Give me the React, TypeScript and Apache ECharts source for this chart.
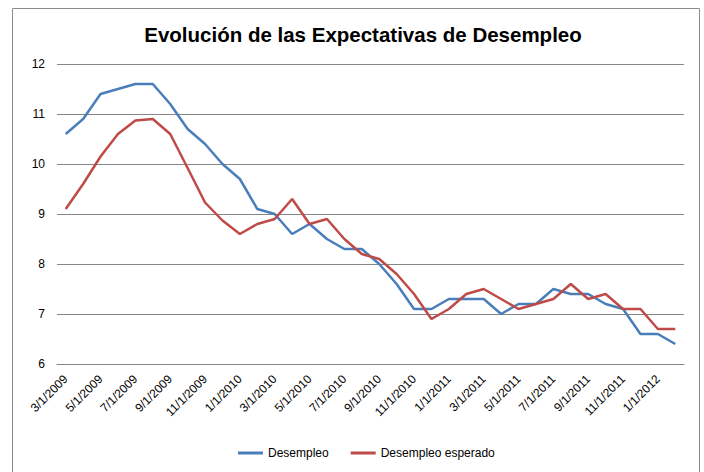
import React, { useEffect, useRef } from "react";
import * as echarts from "echarts";

const categories = [
  "3/1/2009","4/1/2009","5/1/2009","6/1/2009","7/1/2009","8/1/2009","9/1/2009","10/1/2009","11/1/2009","12/1/2009",
  "1/1/2010","2/1/2010","3/1/2010","4/1/2010","5/1/2010","6/1/2010","7/1/2010","8/1/2010","9/1/2010","10/1/2010",
  "11/1/2010","12/1/2010","1/1/2011","2/1/2011","3/1/2011","4/1/2011","5/1/2011","6/1/2011","7/1/2011","8/1/2011",
  "9/1/2011","10/1/2011","11/1/2011","12/1/2011","1/1/2012","2/1/2012",
];

const desempleo = [
  10.6, 10.9, 11.4, 11.5, 11.6, 11.6, 11.2, 10.7, 10.4, 10.0,
  9.7, 9.1, 9.0, 8.6, 8.8, 8.5, 8.3, 8.3, 8.0, 7.6,
  7.1, 7.1, 7.3, 7.3, 7.3, 7.0, 7.2, 7.2, 7.5, 7.4,
  7.4, 7.2, 7.1, 6.6, 6.6, 6.4,
];

const desempleoEsperado = [
  9.1, 9.6, 10.15, 10.6, 10.87, 10.9, 10.6, 9.92, 9.23, 8.87,
  8.6, 8.8, 8.9, 9.3, 8.8, 8.9, 8.5, 8.2, 8.1, 7.8,
  7.4, 6.9, 7.1, 7.4, 7.5, 7.3, 7.1, 7.2, 7.3, 7.6,
  7.3, 7.4, 7.1, 7.1, 6.7, 6.7,
];

const seriesNames = ["Desempleo", "Desempleo esperado"];
const title = "Evolución de las Expectativas de Desempleo";

export default function App() {
  const ref = useRef<HTMLDivElement>(null);
  useEffect(() => {
    if (!ref.current) return;
    const chart = echarts.init(ref.current, null, { renderer: "svg" });
    const font = "'Liberation Sans', sans-serif";
    chart.setOption({
      animation: false,
      backgroundColor: "#ffffff",
      textStyle: { fontFamily: font },
      title: {
        text: title,
        left: 358,
        top: 19,
        textAlign: "center",
        textStyle: { fontFamily: font, fontSize: 20.5, fontWeight: "bold", color: "#000" },
      },
      graphic: [
        {
          type: "rect",
          shape: { x: 12.5, y: 8.5, width: 687, height: 470 },
          style: { fill: "none", stroke: "#8c8c8c", lineWidth: 1 },
          silent: true,
        },
      ],
      grid: { left: 57, right: 20, top: 64, bottom: 108 },
      legend: {
        bottom: 8,
        left: 233,
        icon: "rect",
        itemWidth: 25,
        itemHeight: 3,
        itemGap: 22,
        textStyle: { fontFamily: font, fontSize: 12, color: "#000" },
        data: seriesNames,
      },
      xAxis: {
        type: "category",
        data: categories,
        boundaryGap: true,
        axisLine: { show: true, lineStyle: { color: "#868686" } },
        axisTick: { show: false },
        axisLabel: { interval: 1, rotate: 45, fontFamily: font, fontSize: 12, color: "#000", margin: 13 },
      },
      yAxis: {
        type: "value",
        min: 6,
        max: 12,
        interval: 1,
        axisLine: { show: false },
        axisTick: { show: false },
        splitLine: { lineStyle: { color: "#868686", width: 1 } },
        axisLabel: { fontFamily: font, fontSize: 12, color: "#000", margin: 12 },
      },
      series: [
        {
          name: seriesNames[0],
          type: "line",
          data: desempleo,
          symbol: "none",
          lineStyle: { color: "#4a7ebb", width: 2.5 },
          itemStyle: { color: "#4a7ebb" },
        },
        {
          name: seriesNames[1],
          type: "line",
          data: desempleoEsperado,
          symbol: "none",
          lineStyle: { color: "#be4b48", width: 2.5 },
          itemStyle: { color: "#be4b48" },
        },
      ],
    });
    return () => chart.dispose();
  }, []);
  return <div ref={ref} style={{ position: "fixed", left: 0, top: 0, width: 704, height: 472 }} />;
}
